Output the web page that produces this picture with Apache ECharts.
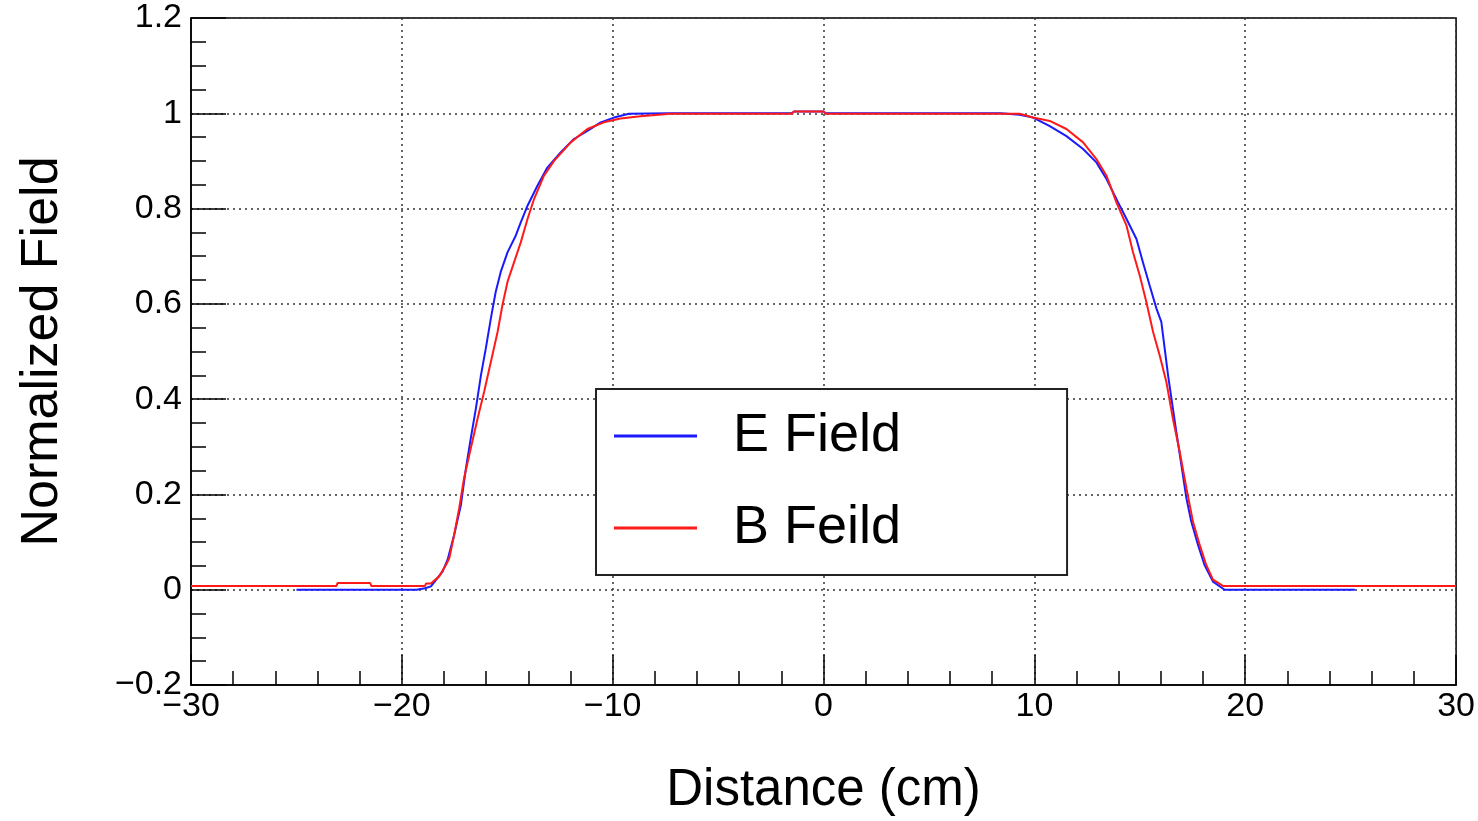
<!DOCTYPE html>
<html>
<head>
<meta charset="utf-8">
<script src="https://cdn.jsdelivr.net/npm/echarts@6/dist/echarts.min.js"></script>
<style>
html,body{margin:0;padding:0;background:#fff;}
#c{width:1478px;height:821px;}
</style>
</head>
<body>
<div id="c"></div>
<script>
// ---- data ----
const eX = [-25, -19.3, -18.9, -18.62, -18.07, -17.83, -17.52, -17.2, -16.96, -16.73, -16.49, -16.25, -16.02, -15.78, -15.55, -15.31, -14.99, -14.6, -14.36, -14.04, -13.57, -13.1, -12.47, -11.84, -11.2, -10.57, -9.94, -9.23, -7.3, -1.5, -1.4, 0, 0.1, 8.4, 9.3, 9.94, 10.73, 11.52, 12.31, 12.94, 13.42, 13.97, 14.37, 14.84, 15.15, 15.47, 15.79, 16.02, 16.18, 16.34, 16.57, 16.73, 16.97, 17.21, 17.44, 17.76, 18.07, 18.47, 19.02, 25.2];
const eY = [0, 0, 0.003, 0.007, 0.038, 0.063, 0.115, 0.178, 0.255, 0.318, 0.38, 0.45, 0.506, 0.569, 0.625, 0.667, 0.708, 0.743, 0.771, 0.806, 0.848, 0.886, 0.918, 0.946, 0.963, 0.981, 0.991, 0.999, 1.0, 1.0, 1.004, 1.004, 1.0, 1.0, 0.997, 0.991, 0.973, 0.952, 0.925, 0.897, 0.862, 0.813, 0.778, 0.736, 0.687, 0.638, 0.59, 0.562, 0.506, 0.45, 0.38, 0.332, 0.262, 0.192, 0.143, 0.094, 0.052, 0.017, 0, 0];
const bX = [-30, -23.1, -23.05, -21.5, -21.45, -18.9, -18.85, -18.62, -18.23, -17.91, -17.75, -17.52, -17.28, -17.05, -16.73, -16.41, -16.1, -15.78, -15.46, -15.23, -14.99, -14.68, -14.36, -14.04, -13.73, -13.26, -12.78, -11.99, -11.2, -10.42, -9.63, -8.68, -7.26, -1.5, -1.4, 0, 0.1, 9.3, 9.94, 10.73, 11.52, 12.31, 12.94, 13.42, 13.89, 14.37, 14.68, 15.0, 15.31, 15.63, 15.94, 16.26, 16.57, 16.89, 17.21, 17.52, 17.84, 18.15, 18.47, 18.94, 30];
const bY = [0.008, 0.008, 0.014, 0.014, 0.008, 0.008, 0.013, 0.013, 0.028, 0.052, 0.066, 0.115, 0.171, 0.234, 0.297, 0.359, 0.415, 0.478, 0.541, 0.597, 0.646, 0.687, 0.729, 0.778, 0.82, 0.869, 0.9, 0.939, 0.967, 0.981, 0.989, 0.994, 0.999, 0.999, 1.004, 1.004, 0.999, 0.999, 0.991, 0.984, 0.967, 0.939, 0.904, 0.869, 0.813, 0.764, 0.708, 0.659, 0.604, 0.541, 0.492, 0.436, 0.359, 0.29, 0.213, 0.143, 0.094, 0.052, 0.021, 0.008, 0.008];
const seriesNames = ['E Field', 'B Feild'];
const xTitle = 'Distance (cm)';
const yTitle = 'Normalized Field';

const zip = (xs, ys) => xs.map((x, i) => [x, ys[i]]);
const fmt = v => String(Math.round(v * 10) / 10).replace('-', '\u2212');
const FONT = 'Liberation Sans';

const chart = echarts.init(document.getElementById('c'), null, {renderer: 'canvas'});
chart.setOption({
  animation: false,
  backgroundColor: '#fff',
  grid: {left: 191, right: 21, top: 18, bottom: 134, show: true, borderColor: '#000', borderWidth: 1.5, backgroundColor: 'transparent'},
  legend: {
    orient: 'vertical', left: 596, top: 389,
    padding: [17, 166, 17, 18],
    itemGap: 32,
    itemWidth: 83, itemHeight: 3,
    icon: 'rect',
    backgroundColor: '#fff',
    borderColor: '#222', borderWidth: 2,
    textStyle: {fontFamily: FONT, fontSize: 54, color: '#000', lineHeight: 60, padding: [0, 0, 0, 31]},
    data: seriesNames
  },
  xAxis: {
    type: 'value', min: -30, max: 30, interval: 10,
    name: xTitle, nameLocation: 'middle', nameGap: 80,
    nameTextStyle: {fontFamily: FONT, fontSize: 51, color: '#000'},
    axisLine: {show: true, onZero: false, lineStyle: {color: '#000', width: 1.5}},
    axisTick: {show: true, inside: true, length: 30, lineStyle: {color: '#000', width: 1.5}},
    minorTick: {show: true, splitNumber: 5, length: 14, lineStyle: {color: '#000', width: 1.5}},
    axisLabel: {fontFamily: FONT, fontSize: 34, color: '#000', margin: 5, formatter: fmt, showMinLabel: true, showMaxLabel: true},
    splitLine: {show: true, lineStyle: {color: '#333', width: 1.5, type: [2, 4]}},
    minorSplitLine: {show: false}
  },
  yAxis: {
    type: 'value', min: -0.2, max: 1.2, interval: 0.2,
    name: yTitle, nameLocation: 'middle', nameGap: 122,
    nameTextStyle: {fontFamily: FONT, fontSize: 52, color: '#000'},
    axisLine: {show: true, onZero: false, lineStyle: {color: '#000', width: 1.5}},
    axisTick: {show: true, inside: true, length: 35, lineStyle: {color: '#000', width: 1.5}},
    minorTick: {show: true, splitNumber: 4, length: 15, lineStyle: {color: '#000', width: 1.5}},
    axisLabel: {fontFamily: FONT, fontSize: 34, color: '#000', margin: 9, formatter: fmt, showMinLabel: true, showMaxLabel: true},
    splitLine: {show: true, lineStyle: {color: '#333', width: 1.5, type: [2, 4]}}
  },
  series: [
    {name: seriesNames[0], type: 'line', data: zip(eX, eY), showSymbol: false, symbol: 'none',
     lineStyle: {color: '#1a1aff', width: 2}, itemStyle: {color: '#1a1aff'}, z: 3},
    {name: seriesNames[1], type: 'line', data: zip(bX, bY), showSymbol: false, symbol: 'none',
     lineStyle: {color: '#ff1a1a', width: 2}, itemStyle: {color: '#ff1a1a'}, z: 4}
  ]
});
</script>
</body>
</html>
